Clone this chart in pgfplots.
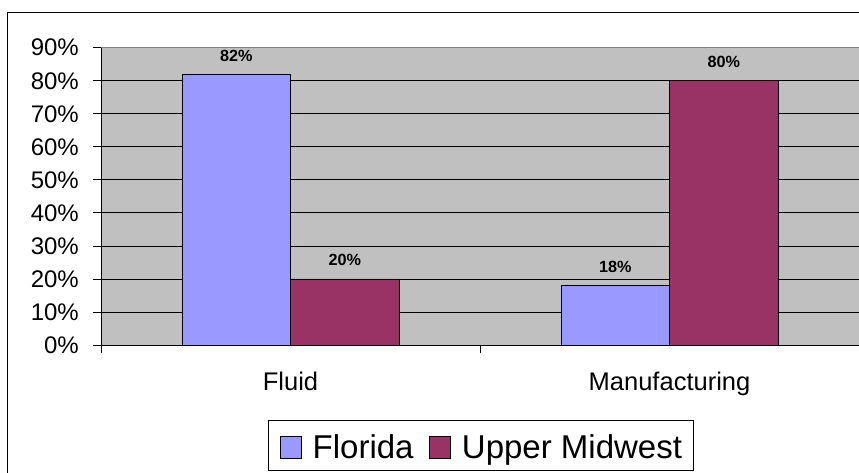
\documentclass[border=0pt]{standalone}
\usepackage{fontspec}
\setmainfont{Liberation Sans}
\usepackage{pgfplots}
\pgfplotsset{compat=1.18}
\definecolor{florida}{HTML}{9999FF}
\definecolor{midwest}{HTML}{993366}
\definecolor{plotgray}{HTML}{C0C0C0}
\begin{document}
\begin{tikzpicture}[x=1pt,y=1pt]
\useasboundingbox (0,0) rectangle (859,472);
\draw[black, line width=1pt] (7.3,-10) rectangle (865,459.3);
\begin{axis}[
  at={(101pt,127pt)}, anchor=south west,
  scale only axis, width=758pt, height=297.3pt,
  xmin=-0.5, xmax=1.5, ymin=0, ymax=90,
  ybar=0pt, bar width=108.5pt,
  axis x line*=bottom, axis y line*=left,
  axis line style={black, line width=0.9pt, -},
  axis background/.style={fill=plotgray},
  /pgf/number format/assume math mode=true,
  ytick={0,10,20,30,40,50,60,70,80,90},
  yticklabels={0\%,10\%,20\%,30\%,40\%,50\%,60\%,70\%,80\%,90\%},
  ymajorgrids, grid style={black, line width=0.8pt},
  tick align=outside, major tick length=8.3pt,
  tick style={black, line width=0.8pt},
  y tick label style={font=\fontsize{24}{28}\selectfont, anchor=east, inner sep=0pt, xshift=-13.7pt},
  xtick={-0.5,0.5,1.5}, xticklabels={,,},
  extra x ticks={0,1}, extra x tick labels={Fluid,Manufacturing},
  extra x tick style={major tick length=0pt, x tick label style={font=\fontsize{25.5}{30}\selectfont, anchor=base, inner sep=0pt, yshift=-45.5pt}},
  nodes near coords={\pgfmathprintnumber{\pgfplotspointmeta}\%},
  every node near coord/.append style={font=\bfseries\fontsize{16.2}{19}\selectfont, anchor=base, inner sep=0pt, yshift=13pt, black},
  legend style={at={(0.2207,-0.4238)}, anchor=south west, draw=black, line width=0.8pt, fill=white,
    inner xsep=11pt, inner ysep=11.8pt, legend columns=2,
    font=\fontsize{33}{40}\selectfont,
    nodes={inner sep=0pt, text depth=0pt, text height=26.5pt},
    /tikz/every odd column/.append style={column sep=10.7pt},
    /tikz/every even column/.append style={column sep=15.4pt}},
]
\addplot[fill=florida, draw=black, line width=0.8pt,
  legend image code/.code={\draw[fill=florida, draw=black, line width=0.8pt] (0pt,-12.65pt) rectangle (21.5pt,8.75pt);}]
  coordinates {(0,82) (1,18)};
\addplot[fill=midwest, draw=black, line width=0.8pt,
  legend image code/.code={\draw[fill=midwest, draw=black, line width=0.8pt] (0pt,-12.65pt) rectangle (21.5pt,8.75pt);}]
  coordinates {(0,20) (1,80)};
\draw[gray, line width=0.9pt] (rel axis cs:0,1) -- (rel axis cs:1,1);
\legend{Florida,Upper Midwest}
\end{axis}
\end{tikzpicture}
\end{document}
